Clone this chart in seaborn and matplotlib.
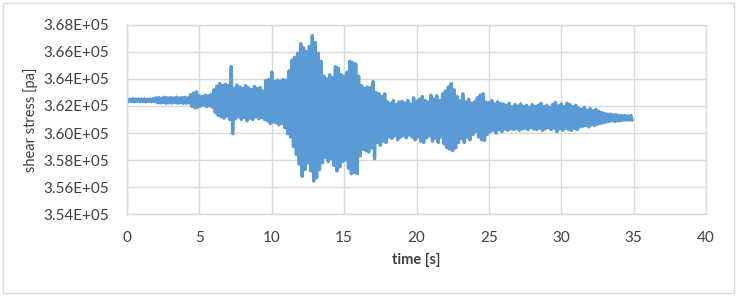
import numpy as np
import pandas as pd
import matplotlib
matplotlib.use("Agg")
import matplotlib.pyplot as plt
from matplotlib.ticker import FuncFormatter, MultipleLocator
from matplotlib.patches import Rectangle
import seaborn as sns

# Envelope of the signal: one upper and one lower value
# every 0.2 s (rows = whole seconds 0..34), in Pa.
upper = [
    362520, 362500, 362530, 362510, 362520,
    362510, 362530, 362500, 362520, 362540,
    362600, 362620, 362580, 362640, 362600,
    362620, 362590, 362650, 362600, 362630,
    362640, 362600, 362850, 362950, 363050,
    362750, 362700, 362800, 362750, 362850,
    363200, 363450, 363650, 363500, 363600,
    363500, 364900, 363300, 363550, 363400,
    363300, 363500, 363350, 363200, 363450,
    363300, 363350, 363100, 363900, 363950,
    364500, 363800, 363900, 363850, 363950,
    363900, 364600, 365400, 365600, 365900,
    366600, 366300, 366000, 366400, 367200,
    366700, 365900, 365300, 364200, 364000,
    364300, 364100, 364900, 364800, 364300,
    364200, 364500, 365300, 365200, 365100,
    364200, 363500, 363300, 363400, 363350,
    363800, 363000, 362900, 362700, 362900,
    362300, 362200, 362400, 362100, 362300,
    362350, 362200, 362400, 362150, 362600,
    362350, 362500, 362700, 362400, 362300,
    362800, 362500, 362750, 362400, 362900,
    363100, 363400, 363650, 363200, 362700,
    362400, 362900, 362300, 362500, 362200,
    362300, 362600, 362800, 362900, 362300,
    362250, 362400, 362150, 362300, 362200,
    362150, 362050, 362200, 361950, 362100,
    362000, 362150, 361950, 362050, 361900,
    362100, 361950, 362050, 362200, 361950,
    362050, 361900, 362100, 362250, 362000,
    362150, 361950, 362200, 362100, 361950,
    362050, 361850, 361750, 361900, 361700,
    361800, 361650, 361750, 361600, 361500,
    361450, 361400, 361400, 361350, 361350,
    361300, 361300, 361300, 361250, 361300,
]
lower = [
    362320, 362330, 362310, 362330, 362320,
    362320, 362300, 362330, 362310, 362320,
    362240, 362220, 362250, 362200, 362230,
    362210, 362240, 362200, 362230, 362190,
    362200, 362220, 361950, 361850, 361900,
    362000, 362050, 361950, 362000, 361900,
    361500, 361300, 361200, 361100, 361250,
    361000, 359950, 361050, 361200, 361000,
    361150, 360900, 361100, 361000, 361200,
    361050, 361150, 361000, 360900, 360700,
    360800, 360750, 360600, 360700, 360400,
    359950, 359700, 359000, 358400, 357700,
    356800, 357300, 357800, 357200, 356450,
    356700, 357300, 357800, 358200, 357900,
    358100, 357600, 357200, 357500, 357900,
    358000, 357400, 357000, 357100, 357000,
    358300, 358800, 358700, 358600, 358900,
    358100, 359300, 359100, 359400, 359300,
    359700, 359600, 359800, 359500, 359700,
    359800, 359650, 359850, 359700, 359500,
    359700, 359400, 359300, 359650, 359800,
    359400, 359600, 359300, 359700, 359200,
    358900, 358800, 358700, 358900, 359300,
    359600, 359300, 359700, 359500, 359900,
    360100, 359700, 359500, 359450, 359900,
    360100, 360200, 360000, 360250, 360100,
    360300, 360200, 360300, 360250, 360350,
    360200, 360300, 360350, 360250, 360400,
    360300, 360250, 360350, 360200, 360300,
    360400, 360250, 360350, 360100, 360300,
    360200, 360350, 360250, 360200, 360350,
    360250, 360450, 360500, 360550, 360450,
    360600, 360550, 360650, 360700, 360750,
    360800, 360850, 360900, 360850, 360900,
    360900, 360950, 360950, 360950, 360950,
]
sample_step = 0.1  # s between successive samples of the oscillating signal

x_ticks = [0, 5, 10, 15, 20, 25, 30, 35, 40]
y_min, y_max, y_step = 354000, 368000, 2000
x_label = "time [s]"
y_label = "shear stress [pa]"

# interleave peaks and troughs into one oscillating series
stress = np.column_stack([upper, lower]).ravel()
time = np.arange(len(stress)) * sample_step
df = pd.DataFrame({"time": time, "stress": stress})

sns.set_theme(style="white")
plt.rcParams["font.family"] = ["Lato", "DejaVu Sans"]

fig = plt.figure(figsize=(7.37, 2.96), dpi=100)
ax = fig.add_axes([127 / 737, 1 - 214.3 / 296, (706 - 127) / 737, (214.3 - 24.7) / 296])

sns.lineplot(data=df, x="time", y="stress", ax=ax, estimator=None, sort=False,
             color="#5B9BD5", linewidth=2.4)

ax.set_xlim(x_ticks[0], x_ticks[-1])
ax.set_ylim(y_min, y_max)
ax.set_xticks(x_ticks)
ax.yaxis.set_major_locator(MultipleLocator(y_step))
ax.yaxis.set_major_formatter(FuncFormatter(lambda v, p: f"{v:.2E}"))
ax.grid(True, color="#D9D9D9", linewidth=1)
ax.set_axisbelow(True)
for s in ax.spines.values():
    s.set_color("#D9D9D9")
    s.set_linewidth(1)
ax.tick_params(axis="both", length=0, labelsize=11, colors="#404040")
ax.tick_params(axis="y", pad=13)
ax.tick_params(axis="x", pad=12)
ax.set_xlabel(x_label, fontsize=10.5, fontweight="bold", color="#404040", labelpad=6)
ax.set_ylabel(y_label, fontsize=10.5, color="#404040", labelpad=4)

fig.patches.append(Rectangle((3 / 737, 3 / 296), 731 / 737, 290 / 296,
                             transform=fig.transFigure, fill=False,
                             edgecolor="#D9D9D9", linewidth=1))

fig.savefig("out.png", dpi=100)
